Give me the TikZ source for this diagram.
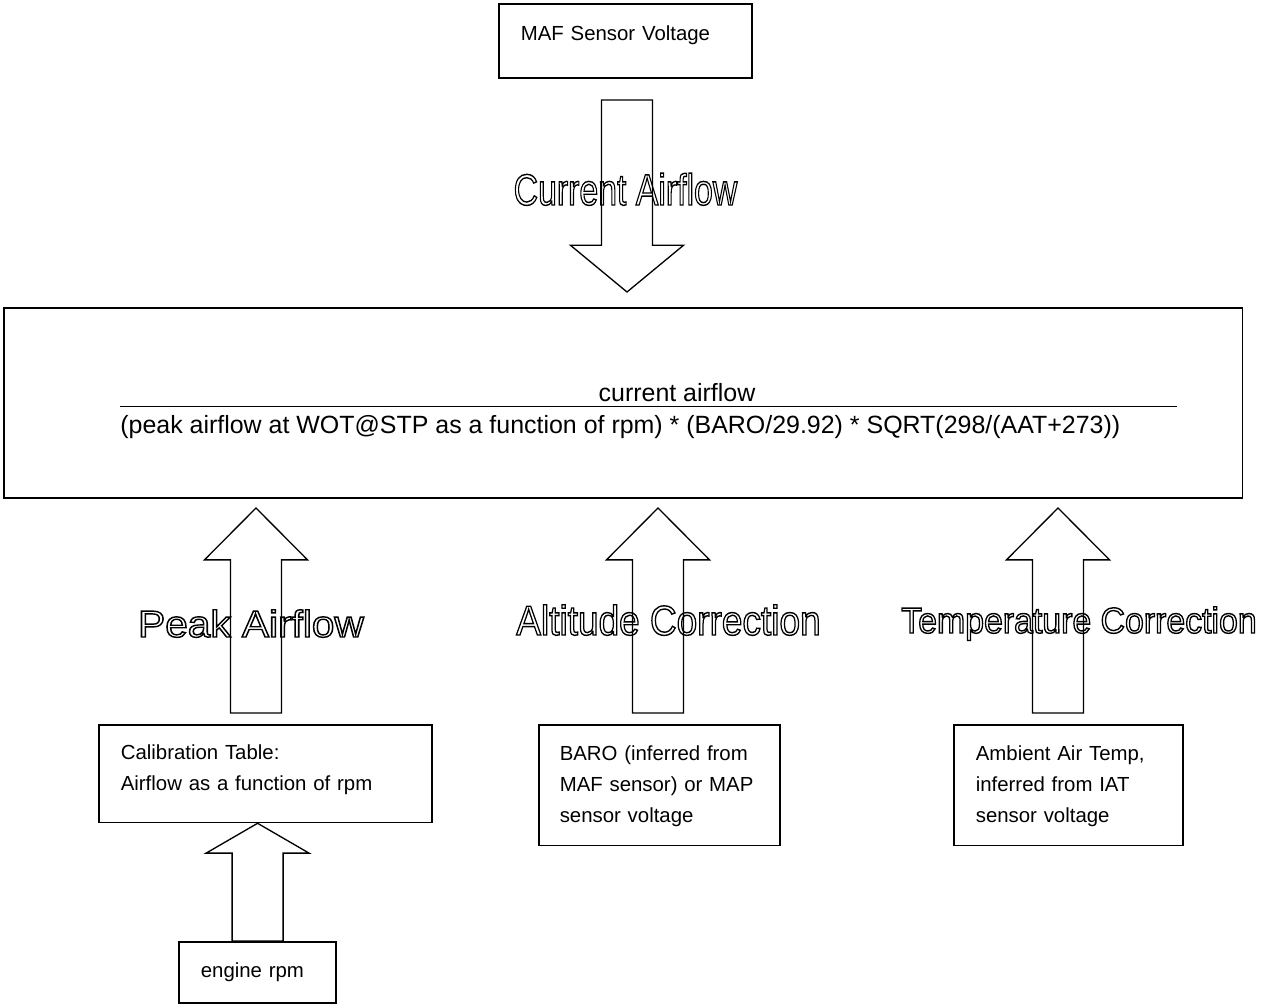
\documentclass[tikz,border=0pt]{standalone}
\usepackage{fontspec}
\setmainfont{Liberation Sans}
\usetikzlibrary{calc, positioning}

% outlined (hollow) lettering: size, horizontal squeeze, text
\newcommand{\hollow}[3]{\scalebox{#2}[1]{\fontsize{#1}{#1}\selectfont
  \special{pdf:code 1 Tr 0.8 w}#3\special{pdf:code 0 Tr}}}

% block arrow: tail, tip, shaft half width, head half width, head length
\newcommand{\fatarrow}[5]{%
  \coordinate (hb) at ($(#2)!#5!(#1)$);
  \draw[fat] ($(#1)+(-#3,0)$) -- ($(hb)+(-#3,0)$) -- ($(hb)+(-#4,0)$) -- (#2)
    -- ($(hb)+(#4,0)$) -- ($(hb)+(#3,0)$) -- ($(#1)+(#3,0)$) -- cycle;}

\begin{document}
\begin{tikzpicture}[x=0.02cm, y=-0.02cm,
    font=\fontsize{11.6}{17.7}\selectfont,
    box/.style={draw, line width=1pt, anchor=north west, align=left,
      inner ysep=0pt, inner xsep=12.5pt},
    fat/.style={draw, line width=0.75pt, line join=miter},
    eqtext/.style={inner sep=0pt, font=\fontsize{14.2}{16}\selectfont}]
    \useasboundingbox (0,0) rectangle (1270,1005);

    % sources
    \node[box, text width=119pt, text height=21pt, text depth=21pt] (maf) at (498,3) {MAF Sensor Voltage};
    \node[box, text width=164.4pt, text height=19.8pt, text depth=35.7pt] (calib) at (98,724)
      {Calibration Table:\\Airflow as a function of rpm};
    \node[box, inner xsep=11.9pt, text width=113.4pt, text height=20.4pt, text depth=48.2pt] (baro) at (538,724)
      {BARO (inferred from\\MAF sensor) or MAP\\sensor voltage};
    \node[box, text width=105.4pt, text height=20.4pt, text depth=48.2pt] (aat) at (953,724)
      {Ambient Air Temp,\\inferred from IAT\\sensor voltage};
    \node[box, text width=64.6pt, text height=20.4pt, text depth=14.2pt] (eng) at (178,941) {engine rpm};

    % the ratio
    \node[box, minimum width=705pt, minimum height=108.3pt] (ratio) at (3,307) {};
    \node[eqtext, anchor=base] (num) at (677,401) {current airflow};
    \node[eqtext, anchor=base west] (den) at (120,433)
      {(peak airflow at WOT@STP as a function of rpm) * (BARO/29.92) * SQRT(298/(AAT+273))};
    \draw[line width=1.1pt] (den.base west |- 0,406.5) -- (1177,406.5);

    % arrows
    \coordinate (cur-a) at (627,100);
    \coordinate (cur-b) at (627,292);
    \fatarrow{cur-a}{cur-b}{25.5}{56.5}{26.6pt}
    \coordinate (pk-a) at (256,713);
    \coordinate (pk-b) at (256,508);
    \fatarrow{pk-a}{pk-b}{25.5}{51.5}{29.5pt}
    \coordinate (alt-a) at (658,713);
    \coordinate (alt-b) at (658,508);
    \fatarrow{alt-a}{alt-b}{25.5}{51.5}{29.5pt}
    \coordinate (tmp-a) at (1058,713);
    \coordinate (tmp-b) at (1058,508);
    \fatarrow{tmp-a}{tmp-b}{25.5}{51.5}{29.5pt}
    \coordinate (rpm-b) at (eng.north |- calib.south);
    \fatarrow{eng.north}{rpm-b}{25.5}{51.5}{17pt}

    % arrow captions
    \node[inner sep=0pt, anchor=base] (cur-lbl) at (625.5,205) {\hollow{25}{0.77}{Current Airflow}};
    \node[inner sep=0pt, anchor=base] (pk-lbl) at (251,637) {\hollow{21.4}{1.08}{Peak Airflow}};
    \node[inner sep=0pt, anchor=base] (alt-lbl) at (668.5,635) {\hollow{23.8}{0.885}{Altitude Correction}};
    \node[inner sep=0pt, anchor=base] (tmp-lbl) at (1079,633) {\hollow{20.6}{0.935}{Temperature Correction}};
\end{tikzpicture}
\end{document}
